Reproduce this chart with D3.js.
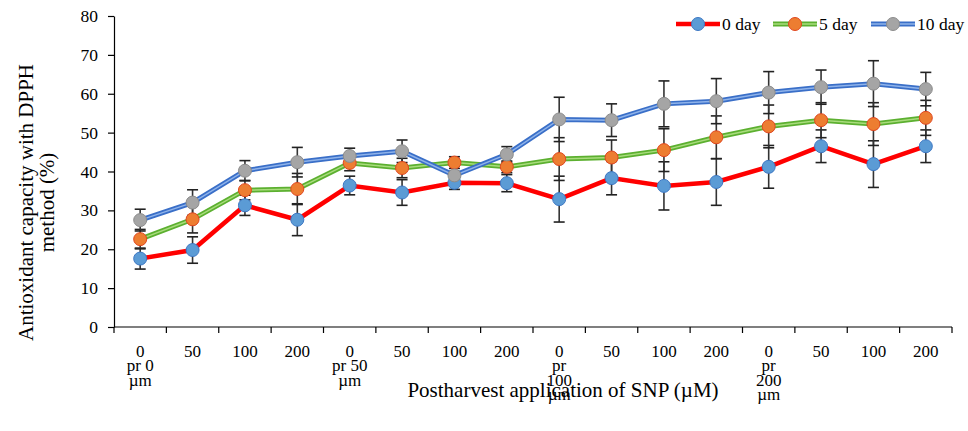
<!DOCTYPE html>
<html>
<head>
<meta charset="utf-8">
<script src="https://cdn.jsdelivr.net/npm/d3@7"></script>
<style>
  body { margin: 0; background: #fff; }
  text { font-family: "Liberation Serif", "Times New Roman", serif; }
</style>
</head>
<body>
<div id="chart"></div>
<script>
// SNP concentration per category, grouped by preharvest treatment
const doses = ["0", "50", "100", "200", "0", "50", "100", "200", "0", "50", "100", "200", "0", "50", "100", "200"]
const groups = [["pr 0", "µm"], ["pr 50", "µm"], ["pr", "100", "µm"], ["pr", "200", "µm"]]

const day0 = [17.6, 19.8, 31.3, 27.6, 36.4, 34.6, 37.1, 37.0, 32.9, 38.3, 36.3, 37.3, 41.2, 46.5, 41.9, 46.5]
const day0Err = [2.7, 3.4, 2.6, 4.1, 2.4, 3.3, 1.7, 2.2, 5.9, 4.3, 6.2, 6.0, 5.5, 4.2, 6.0, 4.2]
const day5 = [22.6, 27.7, 35.2, 35.5, 42.2, 40.9, 42.3, 41.2, 43.2, 43.6, 45.5, 48.8, 51.6, 53.2, 52.2, 53.8]
const day5Err = [2.5, 3.5, 2.5, 4.0, 2.0, 2.5, 1.5, 1.5, 5.5, 4.5, 5.5, 5.5, 5.5, 4.5, 5.5, 4.5]
const day10 = [27.5, 32.0, 40.2, 42.4, 44.0, 45.2, 39.0, 44.4, 53.4, 53.2, 57.4, 58.1, 60.3, 61.7, 62.6, 61.2]
const day10Err = [2.8, 3.3, 2.6, 3.8, 2.0, 2.9, 1.0, 2.0, 5.7, 4.2, 5.9, 5.8, 5.4, 4.4, 5.9, 4.3]

const yTicks = [0, 10, 20, 30, 40, 50, 60, 70, 80]

const series = [
    { name: "0 day", values: day0, err: day0Err, line: "#ff0000", inner: null, fill: "#5b9bd5", stroke: "#3e78c4" },
    { name: "5 day", values: day5, err: day5Err, line: "#5cb030", inner: "#a9dc7d", fill: "#ed7d31", stroke: "#e0461f" },
    { name: "10 day", values: day10, err: day10Err, line: "#3a6fc8", inner: "#8fb3ea", fill: "#a5a5a5", stroke: "#8c8c8c" }
]

const W = 968, H = 431
const m = { left: 114, right: 16, top: 16, bottom: 104 }

const svg = d3.select("#chart").append("svg")
    .attr("width", W)
    .attr("height", H)

const x = d3.scaleBand()
    .domain(d3.range(doses.length))
    .range([m.left, W - m.right])
    .padding(0)

const y = d3.scaleLinear()
    .domain([0, 80])
    .range([H - m.bottom, m.top])

const cx = i => x(i) + x.bandwidth() / 2

// y axis
const yAxis = svg.append("g")
    .attr("transform", `translate(${m.left},0)`)
    .call(d3.axisLeft(y).tickValues(yTicks).tickSize(6).tickSizeOuter(0).tickPadding(10))
yAxis.select(".domain").attr("stroke", "#000").attr("stroke-width", 1.2)
yAxis.selectAll(".tick line").attr("stroke", "#000").attr("stroke-width", 1.2)
yAxis.selectAll(".tick text")
    .style("font-family", "Liberation Serif")
    .style("font-size", "17.5px")
    .attr("fill", "#000")

// x axis line and ticks at band edges
const x0 = y(0)
svg.append("line")
    .attr("x1", m.left).attr("x2", W - m.right)
    .attr("y1", x0).attr("y2", x0)
    .attr("stroke", "#000").attr("stroke-width", 1.2)

const edges = d3.range(doses.length + 1).map(i => i < doses.length ? x(i) : x(i - 1) + x.bandwidth())
svg.selectAll(".xtick").data(edges).enter()
    .append("line")
    .attr("class", "xtick")
    .attr("x1", d => d).attr("x2", d => d)
    .attr("y1", x0).attr("y2", x0 + 6)
    .attr("stroke", "#000").attr("stroke-width", 1.2)

svg.selectAll(".dose").data(doses).enter()
    .append("text")
    .attr("class", "dose")
    .attr("x", (d, i) => cx(i))
    .attr("y", 357)
    .attr("text-anchor", "middle")
    .style("font-size", "17px")
    .text(d => d)

groups.forEach((g, gi) => {
    const t = svg.append("text")
        .attr("x", cx(gi * 4))
        .attr("y", 371)
        .attr("text-anchor", "middle")
        .style("font-size", "17px")
    g.forEach((s, k) => {
        t.append("tspan")
            .attr("x", cx(gi * 4))
            .attr("dy", k === 0 ? 0 : 14.5)
            .text(s)
    })
})

svg.append("text")
    .attr("x", 563)
    .attr("y", 397)
    .attr("text-anchor", "middle")
    .style("font-size", "21px")
    .text("Postharvest application of SNP (µM)")

// y axis title
const yt = svg.append("text")
    .attr("transform", `translate(33,${(y(0) + y(80)) / 2 + 31}) rotate(-90)`)
    .attr("text-anchor", "middle")
    .style("font-size", "21px")
yt.append("tspan").attr("x", 0).attr("dy", 0).text("Antioxidant capacity with DPPH")
yt.append("tspan").attr("x", 0).attr("dy", 21).text("method (%)")

// error bars
series.forEach(s => {
    const g = svg.append("g")
    s.values.forEach((v, i) => {
        const lo = y(v - s.err[i]), hi = y(v + s.err[i])
        g.append("line")
            .attr("x1", cx(i)).attr("x2", cx(i))
            .attr("y1", lo).attr("y2", hi)
            .attr("stroke", "#333").attr("stroke-width", 1.6)
        ;[lo, hi].forEach(yy => {
            g.append("line")
                .attr("x1", cx(i) - 5.5).attr("x2", cx(i) + 5.5)
                .attr("y1", yy).attr("y2", yy)
                .attr("stroke", "#222").attr("stroke-width", 1.6)
        })
    })
})

const line = d3.line()
    .x((d, i) => cx(i))
    .y(d => y(d))

series.forEach(s => {
    svg.append("path")
        .datum(s.values)
        .attr("d", line)
        .attr("fill", "none")
        .attr("stroke", s.line)
        .attr("stroke-width", s.inner ? 5 : 4.5)
    if (s.inner) {
        svg.append("path")
            .datum(s.values)
            .attr("d", line)
            .attr("fill", "none")
            .attr("stroke", s.inner)
            .attr("stroke-width", 1.5)
    }
    svg.selectAll(null).data(s.values).enter()
        .append("circle")
        .attr("cx", (d, i) => cx(i))
        .attr("cy", d => y(d))
        .attr("r", 6.5)
        .attr("fill", s.fill)
        .attr("stroke", s.stroke)
        .attr("stroke-width", 1)
})

// legend
const legX = [676, 773, 871]
series.forEach((s, i) => {
    const lg = svg.append("g").attr("transform", `translate(${legX[i]},24)`)
    lg.append("line").attr("x1", 0).attr("x2", 44).attr("y1", 0).attr("y2", 0)
        .attr("stroke", s.line).attr("stroke-width", s.inner ? 5 : 4.5)
    if (s.inner) {
        lg.append("line").attr("x1", 0).attr("x2", 44).attr("y1", 0).attr("y2", 0)
            .attr("stroke", s.inner).attr("stroke-width", 1.5)
    }
    lg.append("circle").attr("cx", 22).attr("cy", 0).attr("r", 6.5)
        .attr("fill", s.fill).attr("stroke", s.stroke)
    lg.append("text").attr("x", 46).attr("y", 6)
        .style("font-size", "17.5px")
        .text(s.name)
})
</script>
</body>
</html>
